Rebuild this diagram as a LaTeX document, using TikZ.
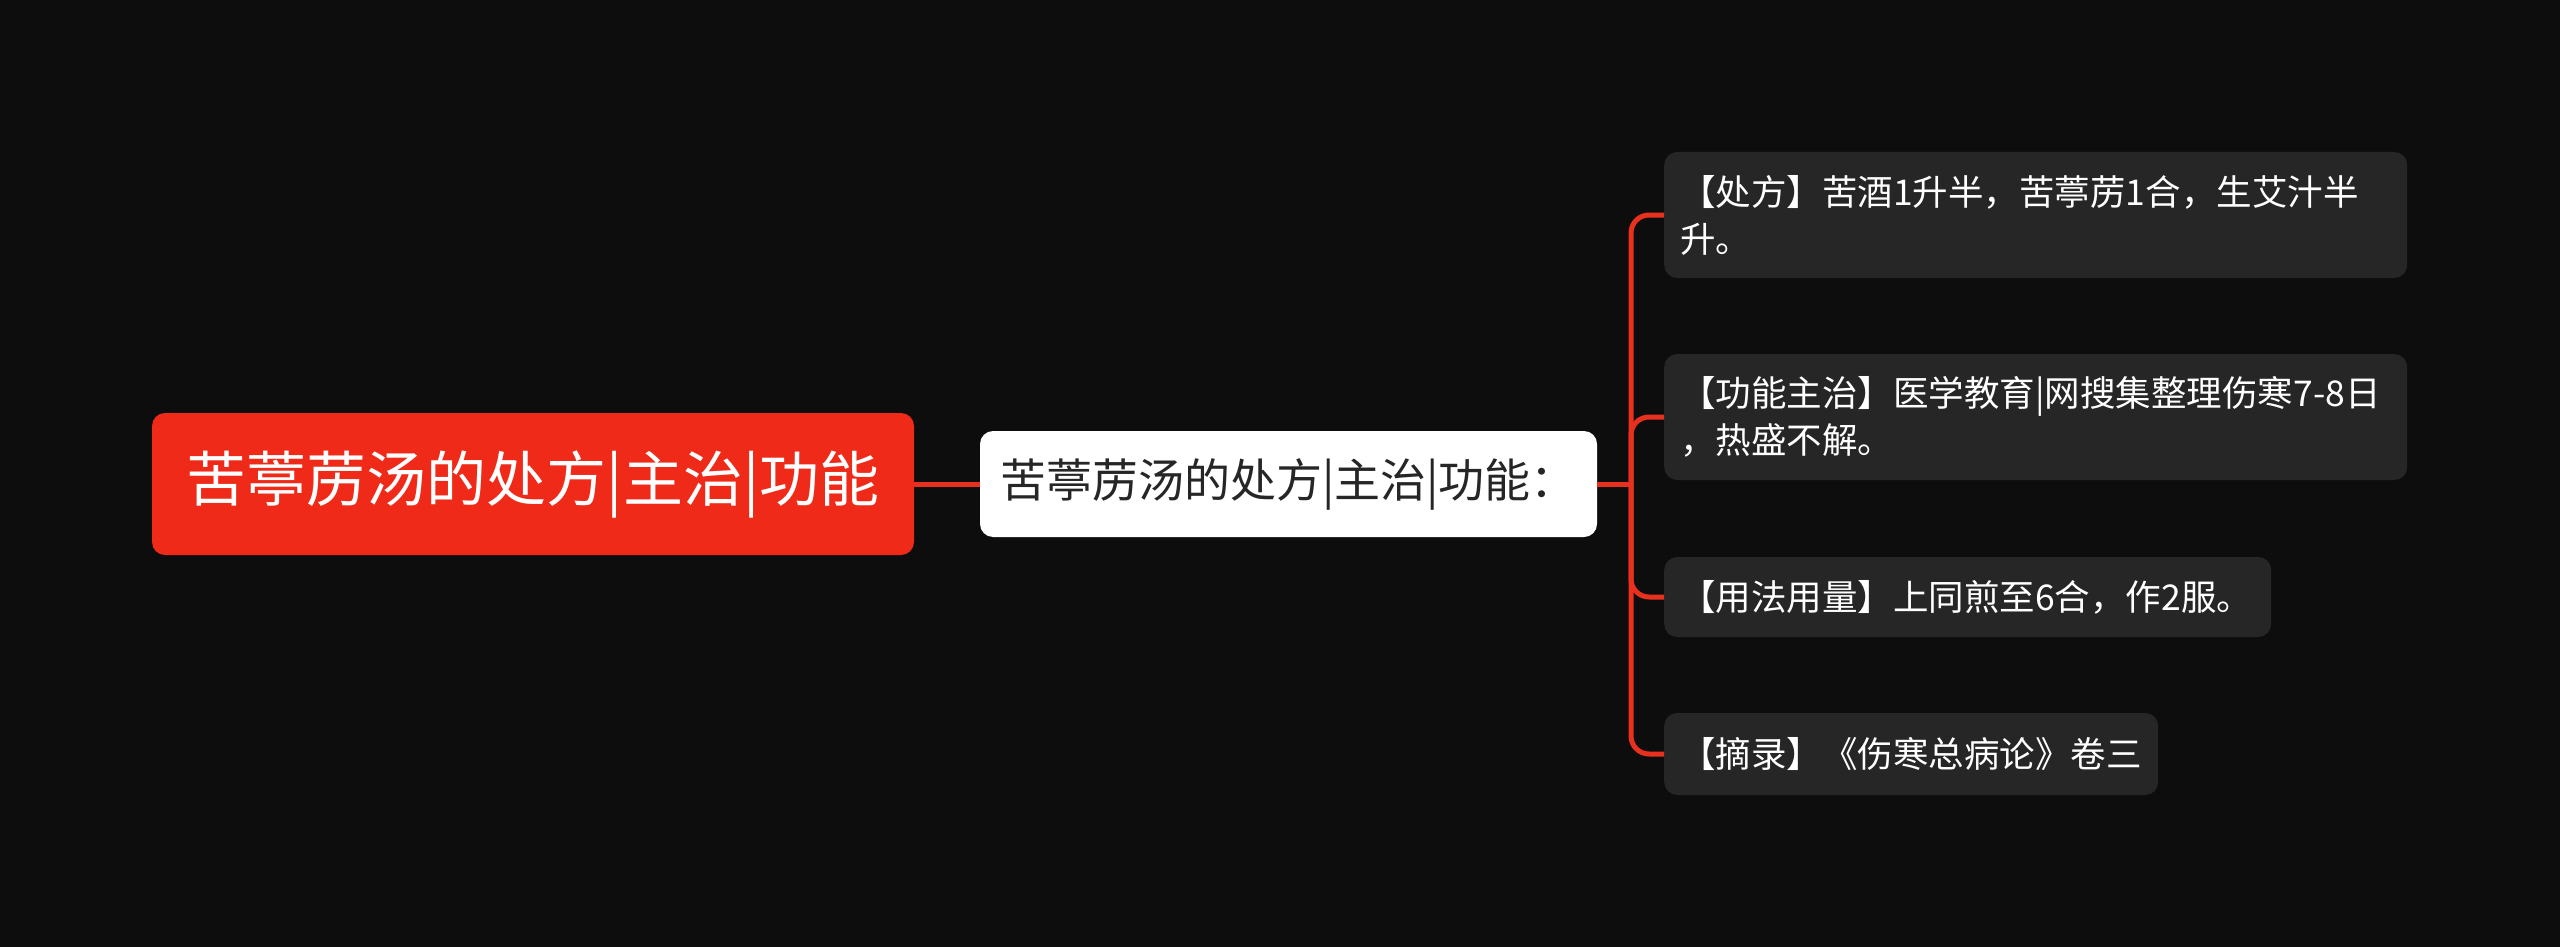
\documentclass[tikz,border=0pt]{standalone}
\usepackage{fontspec}
\setmainfont{Noto Sans CJK SC}
\definecolor{bg}{HTML}{0D0D0D}
\definecolor{rootred}{HTML}{EF2A18}
\definecolor{edgered}{HTML}{E8301E}
\definecolor{leafgray}{HTML}{262626}
\definecolor{midtext}{HTML}{262626}
\begin{document}
\begin{tikzpicture}[x=1pt,y=-1pt,
  edge/.style={draw=edgered, line width=5pt},
  rootbox/.style={fill=rootred, rounded corners=13pt, text=white, font=\fontsize{60}{72}\selectfont, minimum width=762pt, minimum height=142pt, inner sep=0pt},
  midbox/.style={fill=white, rounded corners=13pt, text=midtext, font=\fontsize{46}{55}\selectfont, minimum width=617pt, minimum height=106pt, inner sep=0pt},
  leafbox/.style={fill=leafgray, rounded corners=13pt, text=white, font=\fontsize{35.5}{47}\selectfont, align=left, inner xsep=16pt, inner ysep=0pt, anchor=west}
]
\useasboundingbox (0,0) rectangle (2560,947);
\fill[bg] (0,0) rectangle (2560,947);

\node[rootbox] (root) at (533,484) {苦葶苈汤的处方|主治|功能};
\node[midbox] (mid) at (1288.5,484) {苦葶苈汤的处方|主治|功能：};

\node[leafbox, text width=711pt, minimum height=126pt] (l1) at (1664,215) {【处方】苦酒1升半，苦葶苈1合，生艾汁半\\升。};
\node[leafbox, text width=711pt, minimum height=126pt] (l2) at (1664,417) {【功能主治】医学教育|网搜集整理伤寒7-8日\\，热盛不解。};
\node[leafbox, text width=575pt, minimum height=80pt] (l3) at (1664,597) {【用法用量】上同煎至6合，作2服。};
\node[leafbox, text width=462pt, minimum height=82pt] (l4) at (1664,754) {【摘录】《伤寒总病论》卷三};

\coordinate (J) at (1631,484);
\draw[edge] (root.east) -- (mid.west);
\draw[edge] (mid.east) -- (J);
\foreach \l in {l1,l2,l3,l4} \draw[edge, rounded corners=18pt] (J) |- (\l.west);
\end{tikzpicture}
\end{document}
